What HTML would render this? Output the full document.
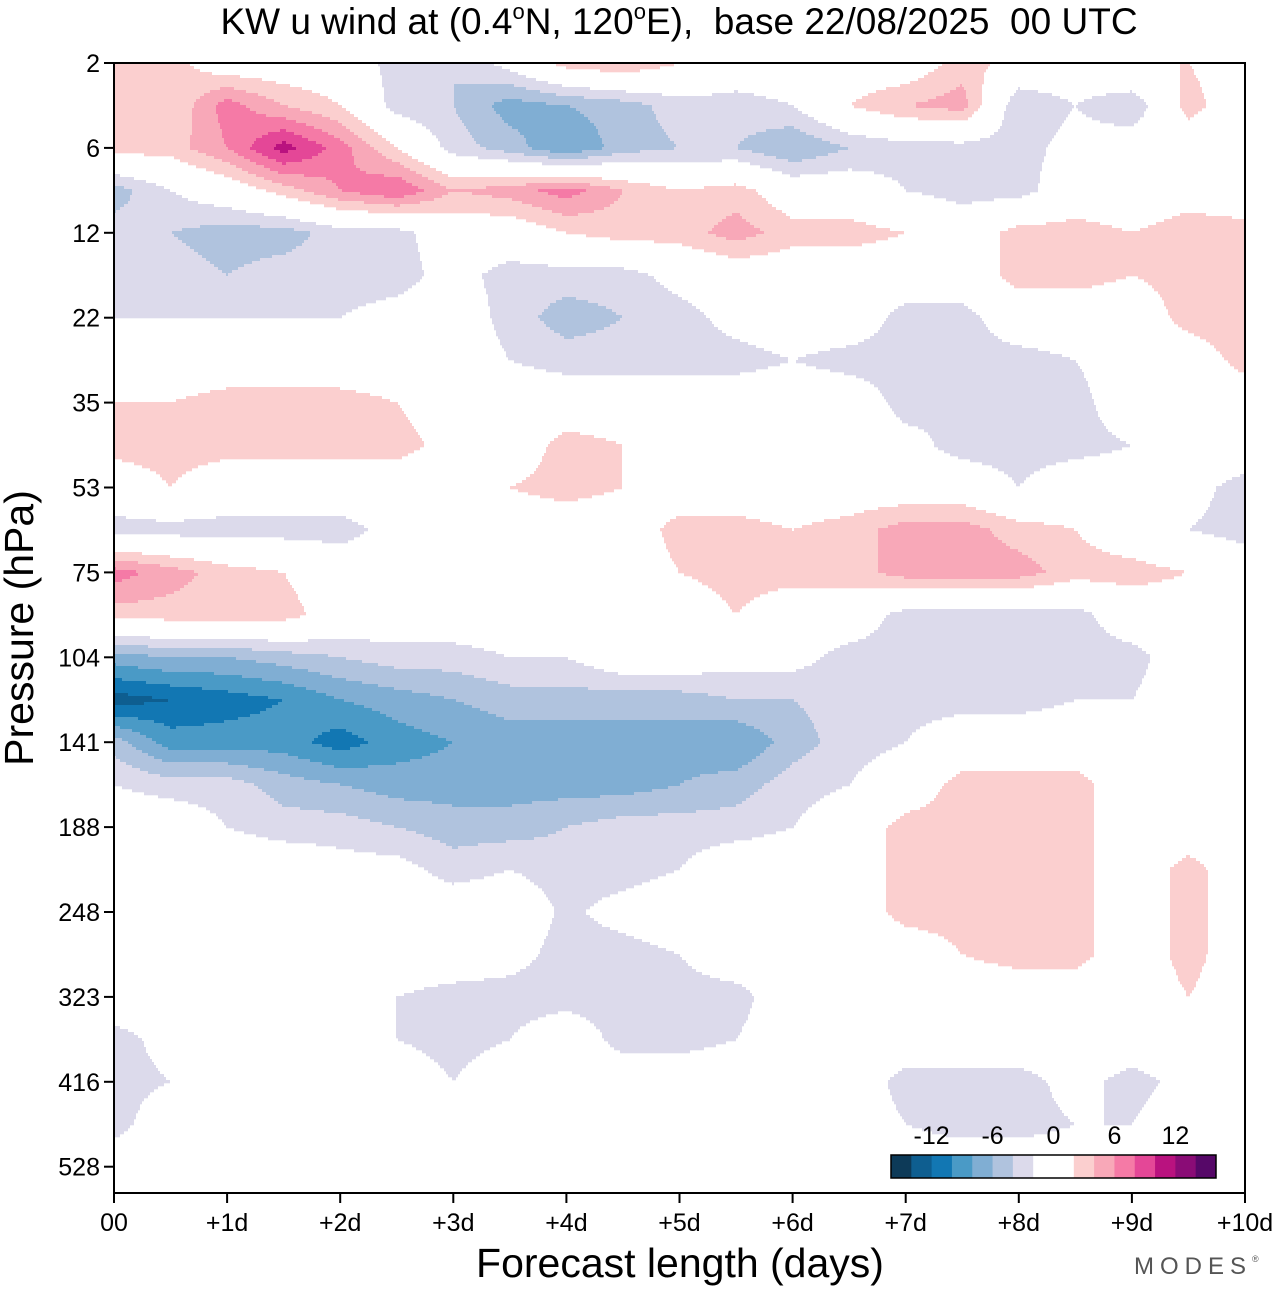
<!DOCTYPE html>
<html><head><meta charset="utf-8"><style>
body{margin:0;background:#fff;}
svg text{font-family:"Liberation Sans",sans-serif;fill:#000;}
</style></head><body>
<svg id="chart" width="1280" height="1286" viewBox="0 0 1280 1286" xmlns="http://www.w3.org/2000/svg">
<rect width="1280" height="1286" fill="#fff"/>
<g id="field"></g>
<rect x="114" y="63" width="1131" height="1130" fill="none" stroke="#000" stroke-width="2"/>
<g id="axes"></g>
<text x="679" y="34" font-size="37" text-anchor="middle">KW u wind at (0.4<tspan font-size="22" dy="-15">o</tspan><tspan dy="15">N, 120</tspan><tspan font-size="22" dy="-15">o</tspan><tspan dy="15">E),&#160; base 22/08/2025&#160; 00 UTC</tspan></text>
<text x="680" y="1277" font-size="41" text-anchor="middle">Forecast length (days)</text>
<text transform="translate(33,628) rotate(-90)" font-size="41" text-anchor="middle">Pressure (hPa)</text>
<text x="1134" y="1274" font-size="24" fill="#555" style="fill:#555;letter-spacing:6px">MODES<tspan font-size="9" dy="-12">®</tspan></text>
<g id="legend"></g>
</svg>
<script>
const NS="http://www.w3.org/2000/svg";
const pressureLabels=["2","6","12","22","35","53","75","104","141","188","248","323","416","528"];
const dayLabels=["00","+1d","+2d","+3d","+4d","+5d","+6d","+7d","+8d","+9d","+10d"];
const legendLabels=["-12","-6","0","6","12"];
const legendValues=[-12,-6,0,6,12];
const levels=[-14,-12,-10,-8,-6,-4,-2,2,4,6,8,10,12,14];
const colors=["#0d3a58","#0e5e90","#1277b3","#4a9ac6","#80aed3","#b0c3de","#dcdaeb",null,"#fbcfcf","#f8a8b8","#f57aa6","#e44797","#b9127f","#8a0c76","#560868"];
// rows: every half pressure tick from 2 hPa down; columns: every 12 h from 00 to +10d
const u=[
[3,3,0,0,0,-3,-4,-1,3,4,2,0,0,0,0,3,1,0,2,2,0],
[3,2,7,4,2,-3,-4,-7,-6,-5,-3,-3,-2,2,4,5,-4,-2,-4,3,0],
[3,3,6,11,7,2,-3,-5,-8,-5,-4,-4,-6,-4,-3,-3,-3,-1,0,0,-2],
[-5,-2,0,3,6,8,4,5,7,4,2,3,0,0,-2,-3,-3,0,0,1,0],
[-3,-4,-5,-5,-3,-3,0,0,2,3,3,5,3,3,2,0,3,3,2,3,3],
[-3,-3,-4,-3,-3,-3,-1,-3,-3,-3,-1,0,0,0,0,0,3,3,2,3,3],
[-2,-2,-2,-2,-2,-1,0,-3,-5,-4,-3,-1,0,0,-3,-3,0,0,0,3,4],
[0,0,0,0,0,0,0,-2,-3,-3,-3,-3,-2,-3,-3,-3,-3,-2,0,0,3],
[2,2,3,3,3,2,0,0,0,0,0,0,0,0,-3,-2,-3,-3,0,0,0],
[3,3,3,3,3,3,1,0,3,2,0,0,0,0,-1,-3,-3,-3,-2,0,0],
[0,2,0,0,0,0,0,2,3,2,0,0,0,0,0,0,-2,0,0,-1,-3],
[-3,-3,-3,-3,-3,-1,0,0,0,0,3,3,2,3,5,5,3,2,0,-2,-3],
[7,5,3,2,0,0,0,0,0,0,2,3,3,3,5,5,5,3,3,2,0],
[3,3,3,3,0.5,0,0,0,0,0,0,2,0,0,-3,-3,-3,-3,0,0,0],
[-7,-6,-6,-5,-4,-3,-3,-2,-2,0,0,-1,-1,-3,-3,-3,-4,-3,-3,0,0],
[-13,-12,-11,-10,-8,-7,-6,-5,-5,-5,-5,-4,-4,-3,-3,-3,-3,-2,-2,0,0],
[-5,-9,-9,-9,-11,-9,-8,-7,-7,-7,-7,-8,-5,-3,-2,0,0,0,0,0,0],
[-2,-3,-3,-5,-6,-7,-7,-7,-7,-7,-6,-5,-3,-2,0,3,3,3,0,0,0],
[0,0,-2,-3,-3,-4,-5,-5,-4,-3,-3,-3,-2,0,3,3,3,3,0,0,0],
[0,0,0,0,-1,-1,-3,-2,-3,-3,-2,0,0,0,3,3,3,3,0,3,0],
[0,0,0,0,0,0,0,0,-2.5,-1,0,0,0,0,3,3,3,3,0,3,0],
[0,0,0,0,0,0,0,-1,-3,-3,-2,0,0,0,0,2,3,3,0,3,0],
[0,0,0,0,0,-2,-3,-3,-3,-3,-3,-3,0,0,0,0,0,0,0,2,0],
[-3,-1,0,0,0,-2,-3,-2,0,-3,-3,-2,0,0,0,0,0,0,0,0,0],
[-3,-2,0,0,0,0,-2,0,0,0,0,0,0,0,-3,-3,-3,-1,-3,-1,0],
[-3,0,0,0,0,0,0,0,0,0,0,0,0,0,-2,-3,-3,-2,-2,0,0],
[0,0,0,0,0,0,0,0,0,0,0,0,0,0,0,0,0,0,0,0,0]
];
const X0=114,X1=1245,Y0=63,TICK=84.9;
const xDay=d=>X0+(X1-X0)*d/10;
const yTick=t=>Y0+TICK*t;
const nR=u.length,nC=u[0].length;
function sample(px,py){
  let c=(px-X0)/(X1-X0)*(nC-1);
  let r=(py-Y0)/(TICK/2);
  c=Math.max(0,Math.min(nC-1,c));r=Math.max(0,Math.min(nR-1,r));
  const c0=Math.min(nC-2,Math.floor(c)),r0=Math.min(nR-2,Math.floor(r));
  const fc=c-c0,fr=r-r0;
  return u[r0][c0]*(1-fc)*(1-fr)+u[r0][c0+1]*fc*(1-fr)+u[r0+1][c0]*(1-fc)*fr+u[r0+1][c0+1]*fc*fr;
}
function bin(v){let i=0;while(i<levels.length&&v>=levels[i])i++;return i;}
const field=document.getElementById('field');
const DY=3,DX=2;
for(let y=Y0;y<1193;y+=DY){
  let runStart=X0,runBin=bin(sample(X0,y+DY/2));
  for(let x=X0+DX;x<X1+DX;x+=DX){
    const b=(x>=X1)?-1:bin(sample(x+DX/2,y+DY/2));
    if(b!==runBin){
      if(colors[runBin]){
        const r=document.createElementNS(NS,'rect');
        r.setAttribute('x',runStart);r.setAttribute('y',y);
        r.setAttribute('width',Math.min(x,X1)-runStart);r.setAttribute('height',Math.min(DY,1193-y)+0.3);
        r.setAttribute('fill',colors[runBin]);
        
        
        field.appendChild(r);
      }
      runStart=x;runBin=b;
    }
  }
}
const axes=document.getElementById('axes');
pressureLabels.forEach((lab,i)=>{
  const y=yTick(i);
  const l=document.createElementNS(NS,'line');
  l.setAttribute('x1',104);l.setAttribute('x2',114);l.setAttribute('y1',y);l.setAttribute('y2',y);l.setAttribute('stroke','#000');l.setAttribute('stroke-width',2);
  
  
  axes.appendChild(l);
  const t=document.createElementNS(NS,'text');
  t.setAttribute('x',100);t.setAttribute('y',y+9);t.setAttribute('font-size',25);t.setAttribute('text-anchor','end');
  t.textContent=lab;
  
  
  axes.appendChild(t);
});
dayLabels.forEach((lab,i)=>{
  const x=xDay(i);
  const l=document.createElementNS(NS,'line');
  l.setAttribute('x1',x);l.setAttribute('x2',x);l.setAttribute('y1',1193);l.setAttribute('y2',1203);l.setAttribute('stroke','#000');l.setAttribute('stroke-width',2);
  
  
  axes.appendChild(l);
  const t=document.createElementNS(NS,'text');
  t.setAttribute('x',x);t.setAttribute('y',1231);t.setAttribute('font-size',25);t.setAttribute('text-anchor','middle');
  t.textContent=lab;
  
  
  axes.appendChild(t);
});
const legend=document.getElementById('legend');
const LX=891,LW=325/16,LY=1155,LH=23;
const legX=v=>LX+(v+16)/2*LW;
const legColors=["#0d3a58","#0e5e90","#1277b3","#4a9ac6","#80aed3","#b0c3de","#dcdaeb","#ffffff","#ffffff","#fbcfcf","#f8a8b8","#f57aa6","#e44797","#b9127f","#8a0c76","#560868"];
legColors.forEach((c,i)=>{
  const r=document.createElementNS(NS,'rect');
  r.setAttribute('x',LX+i*LW);r.setAttribute('y',LY);r.setAttribute('width',LW+0.5);r.setAttribute('height',LH);r.setAttribute('fill',c);
  
  
  legend.appendChild(r);
});
const fr=document.createElementNS(NS,'rect');
fr.setAttribute('x',LX);fr.setAttribute('y',LY);fr.setAttribute('width',325);fr.setAttribute('height',LH);fr.setAttribute('fill','none');fr.setAttribute('stroke','#000');fr.setAttribute('stroke-width',1.5);


legend.appendChild(fr);
legendLabels.forEach((lab,i)=>{
  const t=document.createElementNS(NS,'text');
  t.setAttribute('x',legX(legendValues[i]));t.setAttribute('y',1144);t.setAttribute('font-size',25);t.setAttribute('text-anchor','middle');
  t.textContent=lab;
  
  
  legend.appendChild(t);
});
</script>
</body></html>
